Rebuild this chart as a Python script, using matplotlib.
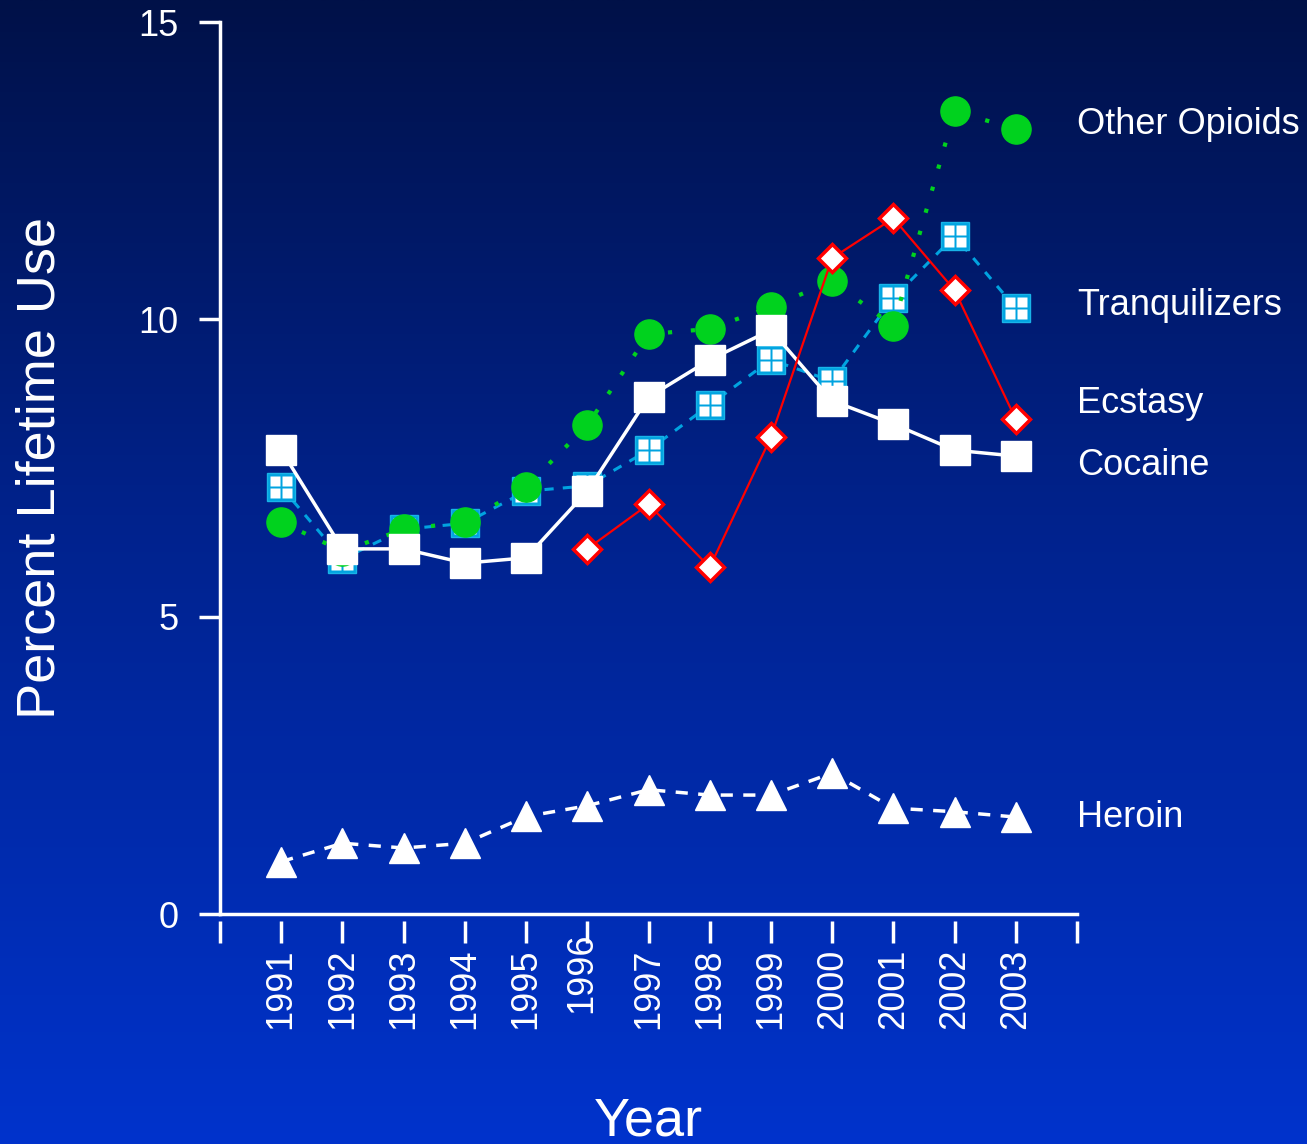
import numpy as np
import matplotlib
matplotlib.use("Agg")
import matplotlib.pyplot as plt
import matplotlib.transforms as mtransforms
from matplotlib.path import Path

plt.rcParams['font.family'] = ['Liberation Sans', 'DejaVu Sans']

years = [1991, 1992, 1993, 1994, 1995, 1996, 1997, 1998, 1999, 2000, 2001, 2002, 2003]
cocaine = [7.80, 6.14, 6.14, 5.90, 5.99, 7.11, 8.69, 9.32, 9.82, 8.63, 8.24, 7.80, 7.70]
tranquilizers = [7.18, 5.97, 6.47, 6.57, 7.11, 7.20, 7.80, 8.56, 9.32, 8.96, 10.36, 11.40, 10.19]
opioids = [6.59, 6.10, 6.47, 6.59, 7.18, 8.22, 9.75, 9.84, 10.21, 10.64, 9.89, 13.50, 13.20]
ecstasy_years = [1996, 1997, 1998, 1999, 2000, 2001, 2002, 2003]
ecstasy = [6.14, 6.89, 5.83, 8.02, 11.03, 11.70, 10.49, 8.32]
heroin = [0.88, 1.19, 1.11, 1.19, 1.64, 1.82, 2.09, 2.00, 2.00, 2.37, 1.78, 1.72, 1.63]

labels = ['Other Opioids', 'Tranquilizers', 'Ecstasy', 'Cocaine', 'Heroin']
label_y = [13.28, 10.23, 8.58, 7.54, 1.63]

green = '#00D21E'
cyan = '#00A3E0'
red = '#FF0000'

W, H = 1307, 1144
fig = plt.figure(figsize=(W / 100, H / 100), dpi=100)

# gradient background
bg = fig.add_axes([0, 0, 1, 1], zorder=-10)
t = np.linspace(0, 1, 400)[:, None]
top = np.array([0, 17, 72]) / 255
mid = np.array([0, 34, 140]) / 255
bot = np.array([0, 51, 204]) / 255
grad = np.where(t < 0.45, top + (mid - top) * (t / 0.45), mid + (bot - mid) * ((t - 0.45) / 0.55))
img = np.repeat(grad[:, None, :], 2, axis=1).reshape(400, 2, 3)
bg.imshow(img, aspect='auto', extent=[0, 1, 0, 1], interpolation='bilinear')
bg.set_axis_off()

ax = fig.add_axes([220 / W, 1 - 914 / H, (1077 - 220) / W, (914 - 22) / H])
ax.patch.set_alpha(0)
ax.spines['bottom'].set_position(('outward', 5))

# window marker for tranquilizers
verts, codes = [], []
for x0, y0 in [(-1, -1), (0.13, -1), (-1, 0.13), (0.13, 0.13)]:
    sq = [(x0, y0), (x0 + 0.87, y0), (x0 + 0.87, y0 + 0.87), (x0, y0 + 0.87), (x0, y0)]
    verts += sq
    codes += [Path.MOVETO, Path.LINETO, Path.LINETO, Path.LINETO, Path.CLOSEPOLY]
windows = Path(verts, codes)

ax.plot(years, tranquilizers, color=cyan, lw=2.2, ls=(0, (3, 3)), marker='s', ms=20,
        mfc=cyan, mec='#19B4E8', mew=1, zorder=3, clip_on=False)
ax.plot(years, tranquilizers, ls='none', marker=windows, ms=16, mfc='white', mec='none',
        zorder=3.1, clip_on=False)
ax.plot(years, opioids, color=green, lw=3, ls=(0, (1, 4.5)), marker='o', ms=21,
        mfc=green, mec=green, zorder=4, clip_on=False)
ax.plot(years, cocaine, color='white', lw=2.5, marker='s', ms=21, mfc='white', mec='white',
        zorder=5, clip_on=False)
ax.plot(ecstasy_years, ecstasy, color=red, lw=1.6, marker='D', ms=14, mfc='white', mec=red,
        mew=2.5, zorder=6, clip_on=False)
ax.plot(years, heroin, color='white', lw=2.5, ls=(0, (3.5, 3)), marker='^', ms=21,
        mfc='white', mec='white', zorder=6, clip_on=False)

for lab, yy in zip(labels, label_y):
    ax.text(2004, yy, lab, color='white', fontsize=26, ha='left', va='center')

ax.set_xlim(1990, 2004)
ax.set_ylim(0, 15)
ax.set_xticks(range(1990, 2005))
ax.set_xticklabels([''] + [str(y) for y in years] + [''], rotation=90, fontsize=26,
                   color='white', va='top', ha='center')
ax.set_yticks([0, 5, 10, 15])
ax.set_yticklabels(['0', '5', '10', '15'], fontsize=26, color='white')

for s in ['top', 'right', 'bottom']:
    ax.spines[s].set_visible(False)
ax.spines['left'].set_color('white')
ax.spines['left'].set_linewidth(2.5)
ax.axhline(0, color='white', lw=2.5, clip_on=False, zorder=2)
ax.tick_params(axis='y', direction='out', length=15, width=2.5, color='white', pad=15)
ax.tick_params(axis='x', direction='out', length=16, width=2.5, color='white', pad=4)

# the 1996 label sits higher and to the left in the original
lbl = ax.get_xticklabels()[6]
off = mtransforms.ScaledTranslation(-6 / 100, 16 / 100, fig.dpi_scale_trans)
lbl.set_transform(lbl.get_transform() + off)

ax.set_ylabel('Percent Lifetime Use', fontsize=39, color='white', labelpad=52)
ax.set_xlabel('Year', fontsize=39, color='white', labelpad=48)

fig.savefig('out.png', dpi=100)
